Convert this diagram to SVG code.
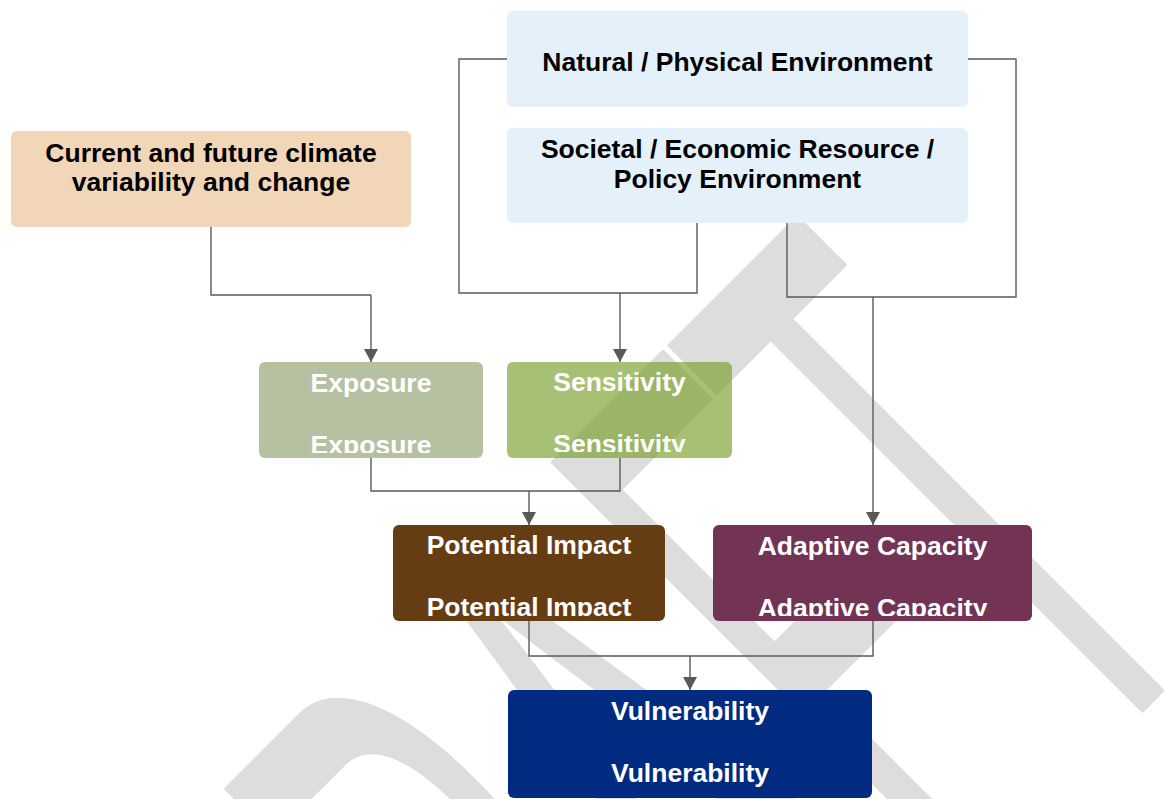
<svg xmlns="http://www.w3.org/2000/svg" width="1165" height="799" viewBox="0 0 1165 799">
<style>
.lbl{font-family:"Liberation Sans",Arial,sans-serif;font-weight:bold;font-size:26.5px;text-anchor:middle}
.dk{fill:#000}
.wt{fill:#fff}
.con{fill:none;stroke:#5a5a5a;stroke-width:1.4}
.arr{fill:none;stroke:#5a5a5a;stroke-width:1.4;marker-end:url(#ah)}
</style>
<defs>
<marker id="ah" markerUnits="userSpaceOnUse" markerWidth="13" markerHeight="14" refX="13" refY="7" orient="auto">
<path d="M0,0 L13,7 L0,14 z" fill="#595959"/>
</marker>
<clipPath id="cExp"><rect x="259" y="362" width="224" height="91"/></clipPath>
<clipPath id="cSen"><rect x="507" y="362" width="225" height="90"/></clipPath>
<clipPath id="cPot"><rect x="393" y="525" width="272" height="91"/></clipPath>
<clipPath id="cAda"><rect x="713" y="525" width="319" height="91"/></clipPath>
</defs>
<rect width="1165" height="799" fill="#fff"/>
<g id="watermark">
<text transform="translate(1221.75,630.25) rotate(-45) scale(1,2.66)" font-family="Liberation Sans, Arial, sans-serif" font-size="323" text-anchor="end" fill="#dddddd" stroke="#dddddd" stroke-width="2" stroke-linejoin="round">DRA<tspan dx="13">F</tspan><tspan dx="-13">T</tspan></text>
</g>
<g id="connectors">
<path class="con" d="M211,227 V295 H371"/>
<path class="arr" d="M371,295 V362"/>
<path class="con" d="M507,59 H459 V293 H697 V223"/>
<path class="arr" d="M620,293 V362"/>
<path class="con" d="M968,59 H1016 V297 H787 V223"/>
<path class="arr" d="M873,297 V525"/>
<path class="con" d="M371,458 V491 H620 V458"/>
<path class="arr" d="M529,491 V525"/>
<path class="con" d="M529,621 V656 H873 V621"/>
<path class="arr" d="M690,656 V690"/>
</g>
<g id="natural">
<rect x="507" y="11" width="461" height="96" rx="6" fill="#e4f1fa"/>
<text class="lbl dk" x="737.5" y="71">Natural / Physical Environment</text>
</g>
<g id="societal">
<rect x="507" y="128" width="461" height="95" rx="6" fill="#e4f1fa"/>
<text class="lbl dk" x="737.5" y="158">Societal / Economic Resource /</text>
<text class="lbl dk" x="737.5" y="188">Policy Environment</text>
</g>
<g id="climate">
<rect x="11" y="131" width="400" height="96" rx="6" fill="#f2d6b8"/>
<text class="lbl dk" x="211" y="162">Current and future climate</text>
<text class="lbl dk" x="211" y="191">variability and change</text>
</g>
<g id="exposure">
<rect x="259" y="362" width="224" height="96" rx="6" fill="#b6c1a2"/>
<g clip-path="url(#cExp)">
<text class="lbl wt" x="371" y="392">Exposure</text>
<text class="lbl wt" x="371" y="454">Exposure</text>
</g>
</g>
<g id="sensitivity">
<rect x="507" y="362" width="225" height="96" rx="6" fill="#7a9e29" fill-opacity="0.65"/>
<g clip-path="url(#cSen)">
<text class="lbl wt" x="619.5" y="391">Sensitivity</text>
<text class="lbl wt" x="619.5" y="453">Sensitivity</text>
</g>
</g>
<g id="potential">
<rect x="393" y="525" width="272" height="96" rx="6" fill="#663c13"/>
<g clip-path="url(#cPot)">
<text class="lbl wt" x="529" y="554">Potential Impact</text>
<text class="lbl wt" x="529" y="616">Potential Impact</text>
</g>
</g>
<g id="adaptive">
<rect x="713" y="525" width="319" height="96" rx="6" fill="#723355"/>
<g clip-path="url(#cAda)">
<text class="lbl wt" x="872.5" y="555">Adaptive Capacity</text>
<text class="lbl wt" x="872.5" y="617">Adaptive Capacity</text>
</g>
</g>
<g id="vulnerability">
<rect x="508" y="690" width="364" height="108" rx="6" fill="#002b80"/>
<text class="lbl wt" x="690" y="720">Vulnerability</text>
<text class="lbl wt" x="690" y="782">Vulnerability</text>
</g>
</svg>
